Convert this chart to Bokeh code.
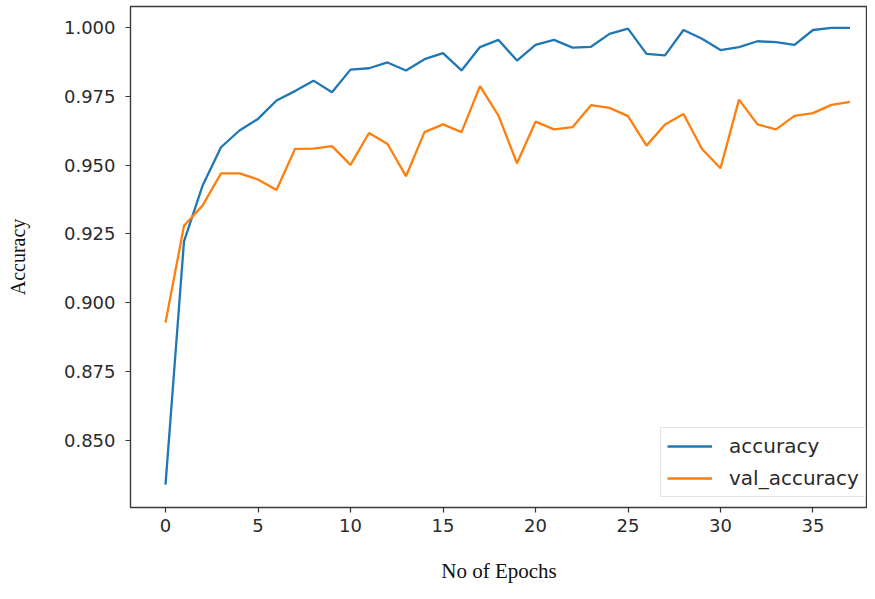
from bokeh.plotting import figure
from bokeh.models import FixedTicker, Legend, LegendItem
from bokeh.embed import file_html
from bokeh.resources import INLINE

epochs = list(range(38))
accuracy = [0.834, 0.9223, 0.9425, 0.9565, 0.9626, 0.9668, 0.9735, 0.9769, 0.9807, 0.9765,
            0.9847, 0.9852, 0.9873, 0.9844, 0.9885, 0.9907, 0.9844, 0.9929, 0.9955, 0.9880,
            0.9937, 0.9955, 0.9927, 0.9930, 0.9977, 0.9996, 0.9904, 0.9899, 0.9991, 0.9959,
            0.9918, 0.9929, 0.9950, 0.9947, 0.9937, 0.9991, 0.9999, 0.9999]
val_accuracy = [0.8928, 0.928, 0.9353, 0.947, 0.947, 0.9448, 0.941, 0.9559, 0.956, 0.9569,
                0.9501, 0.9617, 0.9577, 0.946, 0.962, 0.9648, 0.962, 0.9787, 0.968, 0.9507,
                0.9658, 0.963, 0.9638, 0.9718, 0.9708, 0.9678, 0.9571, 0.9648, 0.9686, 0.9559,
                0.9489, 0.9738, 0.9648, 0.963, 0.9679, 0.9689, 0.9719, 0.973]
x_ticks = [0, 5, 10, 15, 20, 25, 30, 35]
y_ticks = [0.850, 0.875, 0.900, 0.925, 0.950, 0.975, 1.000]
y_tick_labels = ["0.850", "0.875", "0.900", "0.925", "0.950", "0.975", "1.000"]

p = figure(width=867, height=591, output_backend="svg", toolbar_location=None,
           x_range=(-1.892, 37.946), y_range=(0.82566, 1.00763),
           min_border_left=130, min_border_right=0, min_border_top=6, min_border_bottom=84)

p.background_fill_color = "white"
p.border_fill_color = "white"
p.outline_line_color = "#3a3a3a"
p.outline_line_width = 1.4
p.grid.visible = False

l1 = p.line(epochs, accuracy, line_color="#1f77b4", line_width=2.3)
l2 = p.line(epochs, val_accuracy, line_color="#ff7f0e", line_width=2.3)

for ax in (p.xaxis[0], p.yaxis[0]):
    ax.axis_line_color = None
    ax.major_tick_line_color = "#333333"
    ax.major_tick_line_width = 1.2
    ax.major_tick_out = 5
    ax.major_tick_in = 0
    ax.minor_tick_line_color = None
    ax.major_label_text_font = "DejaVu Sans"
    ax.major_label_text_font_size = "18px"
    ax.major_label_text_color = "#2b2b2b"
    ax.axis_label_text_font = "Liberation Serif"
    ax.axis_label_text_font_style = "normal"
    ax.axis_label_text_color = "#111111"

p.xaxis.ticker = FixedTicker(ticks=x_ticks)
p.yaxis.ticker = FixedTicker(ticks=y_ticks)
p.yaxis.major_label_overrides = {t: s for t, s in zip(y_ticks, y_tick_labels)}
p.xaxis.major_label_standoff = 6
p.yaxis.major_label_standoff = 10

p.xaxis.axis_label = "No of Epochs"
p.xaxis.axis_label_text_font_size = "21px"
p.xaxis.axis_label_standoff = 24
p.yaxis.axis_label = "Accuracy"
p.yaxis.axis_label_text_font_size = "20px"
p.yaxis.axis_label_standoff = 32

legend = Legend(items=[LegendItem(label="accuracy", renderers=[l1]),
                       LegendItem(label="val_accuracy", renderers=[l2])],
                location=(530, 10), margin=0, padding=6, spacing=8,
                glyph_width=45, glyph_height=20, label_height=20, label_standoff=17,
                label_text_font="DejaVu Sans", label_text_font_size="20px",
                label_text_color="#2b2b2b",
                border_line_color="#cccccc", border_line_width=1.2,
                background_fill_color="white", background_fill_alpha=0.85)
p.add_layout(legend, "center")

open("out.html", "w").write(file_html(p, INLINE))
